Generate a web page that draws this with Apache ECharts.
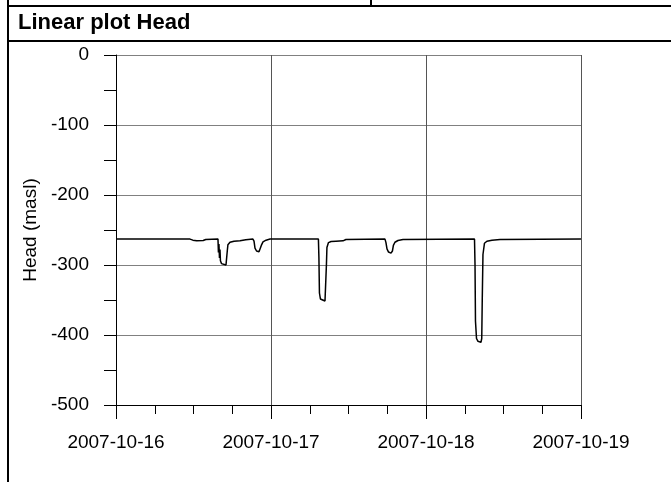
<!DOCTYPE html>
<html>
<head>
<meta charset="utf-8">
<script src="https://cdn.jsdelivr.net/npm/echarts@6/dist/echarts.min.js"></script>
<style>
html, body { margin: 0; padding: 0; background: #fff; }
#chart { width: 671px; height: 482px; }
</style>
</head>
<body>
<div id="chart"></div>
<script>
// hours since 2007-10-16 00:00 and head (masl)
var hours = [0, 11.46, 11.9, 12.5, 13.5, 13.9, 15.79, 15.86, 15.94, 16.02, 16.1, 16.17, 16.33, 16.57, 17.03, 17.15, 17.23, 17.33, 17.65, 18.27, 19.2, 20.1,
    21.2, 21.37, 21.52, 21.76, 22.14, 22.36, 22.5, 22.76, 23.23, 23.85,
    31.34, 31.42, 31.5, 31.65, 31.9, 32.36, 32.52, 32.58, 32.66, 32.9, 33.3, 34.06, 35.15, 35.6,
    41.65, 41.8, 41.96, 42.2, 42.58, 42.8, 42.95, 43.19, 43.66, 44.44,
    55.51, 55.59, 55.66, 55.82, 56.05, 56.51, 56.63, 56.71, 56.82, 57.05, 57.43, 58.21, 59.46, 72];
var head = [-263, -263, -264.5, -265.5, -265, -263.5, -263, -282, -270, -290, -278, -294, -298, -299.5, -300, -298, -280, -271, -267.5, -266, -265.5, -264,
    -263, -266, -276, -280, -281, -279, -272, -267, -264.5, -263,
    -263, -290, -340, -348.5, -350, -351.5, -349, -300, -275, -268, -266.5, -266, -265.5, -263.5,
    -263, -268, -277, -281.5, -283, -280, -272, -267.5, -265, -263.5,
    -263, -300, -380, -405, -409, -410.5, -405, -350, -285, -269, -266, -264.5, -263.5, -263];
var xTickLabels = ['2007-10-16', '2007-10-17', '2007-10-18', '2007-10-19'];
var titleText = 'Linear plot Head';
var yName = 'Head (masl)';

var font = 'Arial, "Liberation Sans", sans-serif';
var chart = echarts.init(document.getElementById('chart'));

var points = [];
hours.forEach(function (h, i) {
    points.push([h, head[i]]);
});

var option = {
    animation: false,
    backgroundColor: '#fff',
    graphic: [
        { type: 'line', shape: { x1: 8, y1: 0, x2: 8, y2: 482 }, style: { stroke: '#000', lineWidth: 2 } },
        { type: 'line', shape: { x1: 8, y1: 6, x2: 671, y2: 6 }, style: { stroke: '#000', lineWidth: 2 } },
        { type: 'line', shape: { x1: 371, y1: 0, x2: 371, y2: 6 }, style: { stroke: '#000', lineWidth: 2 } },
        { type: 'line', shape: { x1: 8, y1: 41, x2: 671, y2: 41 }, style: { stroke: '#000', lineWidth: 2 } },
        { type: 'text', left: 18, top: 12, style: { text: titleText, font: 'bold 22px ' + font, fill: '#000' } }
    ],
    grid: {
        left: 116,
        right: 90,
        top: 55,
        bottom: 77
    },
    xAxis: {
        type: 'value',
        min: 0,
        max: 72,
        interval: 24,
        axisLine: { onZero: false, lineStyle: { color: '#000', width: 1 } },
        axisTick: { length: 14, lineStyle: { color: '#000' } },
        minorTick: { show: true, splitNumber: 4, length: 9, lineStyle: { color: '#000' } },
        splitLine: { show: true, lineStyle: { color: '#555', width: 1 } },
        axisLabel: {
            margin: 28,
            color: '#000',
            fontSize: 19,
            fontFamily: font,
            formatter: function (v) {
                return xTickLabels[Math.round(v / 24)];
            }
        }
    },
    yAxis: {
        type: 'value',
        min: -500,
        max: 0,
        interval: 100,
        name: yName,
        nameLocation: 'middle',
        nameGap: 75,
        nameTextStyle: { color: '#000', fontSize: 19, fontFamily: font },
        axisLine: { show: true, lineStyle: { color: '#000', width: 1 } },
        axisTick: { show: true, length: 12, lineStyle: { color: '#000' } },
        minorTick: { show: true, splitNumber: 2, length: 12, lineStyle: { color: '#000' } },
        splitLine: { show: true, lineStyle: { color: '#808080', width: 1 } },
        axisLabel: { margin: 27, color: '#000', fontSize: 19, fontFamily: font }
    },
    series: [{
        type: 'line',
        data: points,
        showSymbol: false,
        lineStyle: { color: '#000', width: 1.5 }
    }]
};
chart.setOption(option);
</script>
</body>
</html>
